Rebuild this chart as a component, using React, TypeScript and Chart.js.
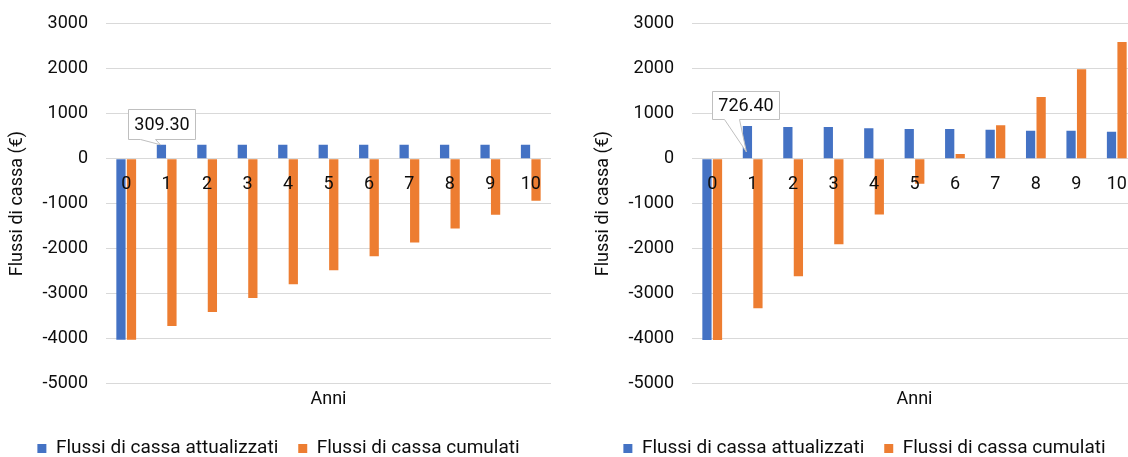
import React, { useEffect, useRef } from "react";
import { Chart, registerables } from "chart.js";

Chart.register(...registerables);

// ---- data ----
const years = ["0", "1", "2", "3", "4", "5", "6", "7", "8", "9", "10"];

const leftDiscounted = [-4030, 309.3, 309.3, 309.3, 309.3, 309.3, 309.3, 309.3, 309.3, 309.3, 309.3];
const leftCumulative = [-4030, -3721, -3411, -3102, -2793, -2483, -2174, -1865, -1555, -1246, -937];

const rightDiscounted = [-4036, 726.4, 704, 704, 675, 660, 660, 645, 623, 623, 600];
const rightCumulative = [-4036, -3326, -2616, -1907, -1242, -561, 104, 742, 1371, 1987, 2593];

const seriesNames = ["Flussi di cassa attualizzati", "Flussi di cassa cumulati"];
const yAxisTitle = "Flussi di cassa (€)";
const xAxisTitle = "Anni";
const yMin = -5000;
const yMax = 3000;
const yStep = 1000;

const BLUE = "#4472C4";
const ORANGE = "#ED7D31";
const GRID = "#D9D9D9";
const TEXT = "#0d0d0d";
const FONT = "Roboto";

type CalloutOpts = {
  index: number;
  text: string;
  boxDx: number;
  boxDy: number;
  boxW: number;
  boxH: number;
  tipDx: number;
  tipDy: number;
};

// category labels drawn next to the zero line (Excel "next to axis" style), on top of the bars
const axisLabelPlugin = {
  id: "axisLabels",
  afterDatasetsDraw(chart: any) {
    const xs = chart.scales.x;
    const ys = chart.scales.y;
    const ctx = chart.ctx;
    const y0 = ys.getPixelForValue(0);
    ctx.save();
    ctx.fillStyle = TEXT;
    ctx.font = `18px ${FONT}`;
    ctx.textAlign = "center";
    ctx.textBaseline = "middle";
    chart.data.labels.forEach((lab: string, i: number) => {
      ctx.fillText(lab, xs.getPixelForValue(i), y0 + 26);
    });
    ctx.restore();
  },
};

const calloutPlugin = {
  id: "callout",
  afterDraw(chart: any, _args: any, opts: CalloutOpts) {
    if (!opts || opts.text === undefined) return;
    const meta = chart.getDatasetMeta(0);
    const el = meta.data[opts.index];
    if (!el) return;
    const { x, y } = el.getProps(["x", "y"], true);
    const ctx = chart.ctx;
    const bl = Math.round(x + opts.boxDx) + 0.5;
    const bt = Math.round(y + opts.boxDy) + 0.5;
    const bw = opts.boxW;
    const bh = opts.boxH;
    const tx = x + opts.tipDx;
    const ty = y + opts.tipDy;
    ctx.save();
    ctx.beginPath();
    ctx.moveTo(bl, bt);
    ctx.lineTo(bl + bw, bt);
    ctx.lineTo(bl + bw, bt + bh);
    ctx.lineTo(bl + 27, bt + bh);
    ctx.lineTo(tx, ty);
    ctx.lineTo(bl + 12, bt + bh);
    ctx.lineTo(bl, bt + bh);
    ctx.closePath();
    ctx.fillStyle = "#ffffff";
    ctx.fill();
    ctx.strokeStyle = "#BFBFBF";
    ctx.lineWidth = 1;
    ctx.stroke();
    ctx.fillStyle = TEXT;
    ctx.font = `18px ${FONT}`;
    ctx.textAlign = "center";
    ctx.textBaseline = "middle";
    ctx.fillText(opts.text, bl + bw / 2, bt + bh / 2 + 1);
    ctx.restore();
  },
};

function buildConfig(discounted: number[], cumulative: number[], callout: CalloutOpts): any {
  return {
    type: "bar",
    data: {
      labels: years,
      datasets: [
        {
          label: seriesNames[0],
          data: discounted,
          backgroundColor: BLUE,
          categoryPercentage: 0.52,
          barPercentage: 0.88,
        },
        {
          label: seriesNames[1],
          data: cumulative,
          backgroundColor: ORANGE,
          categoryPercentage: 0.52,
          barPercentage: 0.88,
        },
      ],
    },
    options: {
      animation: false,
      responsive: false,
      devicePixelRatio: 1,
      layout: { padding: { left: 6, right: 14, top: 11, bottom: 0 } },
      scales: {
        x: {
          type: "category",
          position: "bottom",
          grid: { display: false, drawTicks: false },
          border: { display: false },
          ticks: { display: false },
          title: {
            display: true,
            text: xAxisTitle,
            color: TEXT,
            font: { family: FONT, size: 18, lineHeight: 1.2 },
            padding: { top: 5, bottom: 9 },
          },
        },
        y: {
          type: "linear",
          min: yMin,
          max: yMax,
          grid: { color: GRID, lineWidth: 1, drawTicks: false },
          border: { display: false },
          ticks: {
            stepSize: yStep,
            color: TEXT,
            font: { family: FONT, size: 18 },
            padding: 18,
            callback: (v: any) => String(v),
          },
          title: {
            display: true,
            text: yAxisTitle,
            color: TEXT,
            font: { family: FONT, size: 18, lineHeight: 1.0 },
            padding: { top: 2, bottom: 0 },
          },
          afterFit(scale: any) {
            scale.width = 100;
          },
        },
      },
      plugins: {
        legend: {
          display: true,
          position: "bottom",
          labels: {
            boxWidth: 9,
            boxHeight: 9,
            color: TEXT,
            font: { family: FONT, size: 19 },
            padding: 20,
          },
        },
        tooltip: { enabled: false },
        callout,
      },
    },
    plugins: [axisLabelPlugin, calloutPlugin],
  };
}

function BarPanel(props: { discounted: number[]; cumulative: number[]; callout: CalloutOpts; left: number }) {
  const ref = useRef<HTMLCanvasElement | null>(null);
  useEffect(() => {
    if (!ref.current) return;
    const chart = new Chart(ref.current, buildConfig(props.discounted, props.cumulative, props.callout));
    return () => chart.destroy();
  }, []);
  return (
    <canvas
      ref={ref}
      width={565}
      height={473}
      style={{ position: "absolute", left: props.left, top: -5, width: 565, height: 473 }}
    />
  );
}

export default function App() {
  return (
    <div
      style={{
        position: "fixed",
        left: 0,
        top: 0,
        width: 1128,
        height: 457,
        overflow: "hidden",
        background: "#ffffff",
      }}
    >
      <BarPanel
        discounted={leftDiscounted}
        cumulative={leftCumulative}
        left={0}
        callout={{
          index: 1,
          text: leftDiscounted[1].toFixed(2),
          boxDx: -33,
          boxDy: -36,
          boxW: 67,
          boxH: 30,
          tipDx: -1,
          tipDy: 0,
        }}
      />
      <BarPanel
        discounted={rightDiscounted}
        cumulative={rightCumulative}
        left={586}
        callout={{
          index: 1,
          text: rightDiscounted[1].toFixed(2),
          boxDx: -35,
          boxDy: -35,
          boxW: 67,
          boxH: 28,
          tipDx: -1,
          tipDy: 26,
        }}
      />
    </div>
  );
}
